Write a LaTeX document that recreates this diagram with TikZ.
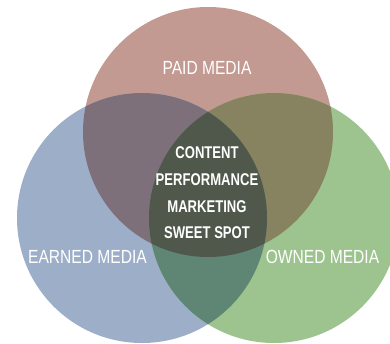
\documentclass[tikz,border=0pt]{standalone}
\usepackage{fontspec}
\setmainfont{Liberation Sans}
\definecolor{cpaid}{HTML}{C29A92}
\definecolor{cearned}{HTML}{9DAEC8}
\definecolor{cowned}{HTML}{9DC38F}
\definecolor{cpe}{HTML}{7D707B}
\definecolor{cpo}{HTML}{878260}
\definecolor{ceo}{HTML}{5F8575}
\definecolor{call}{HTML}{4F584B}
\begin{document}
\begin{tikzpicture}[x=1pt,y=-1pt,
  lbl/.style={text=white,font=\fontsize{19}{19}\selectfont,xscale=0.82,inner sep=0pt},
  core/.style={text=white,font=\fontsize{17}{27}\bfseries\selectfont,xscale=0.77,align=center,inner sep=0pt}]
\useasboundingbox (0,0) rectangle (390,343);
\def\cP{(208,132) circle (125)}
\def\cE{(142,218) circle (125)}
\def\cO{(274,218) circle (125)}
\fill[cpaid] \cP;
\fill[cearned] \cE;
\fill[cowned] \cO;
\begin{scope}\clip \cP; \fill[cpe] \cE; \end{scope}
\begin{scope}\clip \cP; \fill[cpo] \cO; \end{scope}
\begin{scope}\clip \cE; \fill[ceo] \cO; \end{scope}
\begin{scope}\clip \cP; \clip \cE; \fill[call] \cO; \end{scope}
\node[lbl] (paid) at (207,68) {PAID MEDIA};
\node[lbl] (earned) at (87.5,257) {EARNED MEDIA};
\node[lbl] (owned) at (322.5,257) {OWNED MEDIA};
\node[core] (c1) at (207,153) {CONTENT};
\node[core] (c2) at (207,180) {PERFORMANCE};
\node[core] (c3) at (207,207) {MARKETING};
\node[core] (c4) at (207,233) {SWEET SPOT};
\end{tikzpicture}
\end{document}
